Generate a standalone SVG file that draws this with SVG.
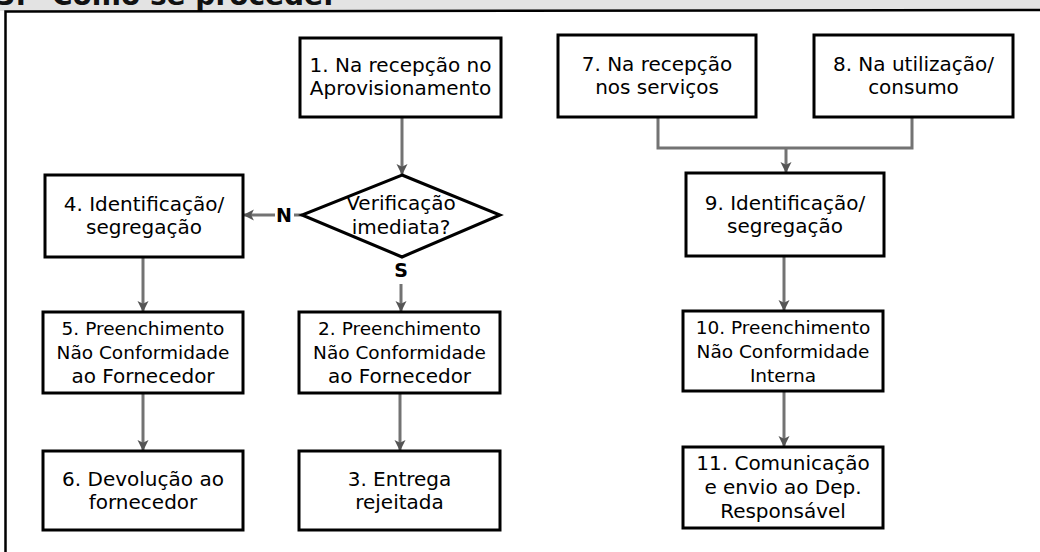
<svg xmlns="http://www.w3.org/2000/svg" width="1040" height="552" viewBox="0 0 1040 552">
<defs>
<marker id="arr" viewBox="0 0 10 10" refX="9" refY="5" markerUnits="userSpaceOnUse" markerWidth="11" markerHeight="15" orient="auto">
<path d="M0,0 L10,5 L0,10 L2.5,5 z" fill="#555"/>
</marker>
<style>
.box{fill:#fff;stroke:#000;stroke-width:3}
.t{font-family:"DejaVu Sans","Liberation Sans",sans-serif;font-size:20px;fill:#000;text-anchor:middle}
.n{font-size:18.5px}
.lbl{font-family:"DejaVu Sans","Liberation Sans",sans-serif;font-size:19px;font-weight:bold;fill:#000;text-anchor:middle}
.c{fill:none;stroke:#737373;stroke-width:3}
</style>
</defs>
<rect x="0" y="0" width="1040" height="552" fill="#fff"/>
<rect x="0" y="0" width="1040" height="11" fill="#e3e3e3"/>
<text x="-4" y="5" font-family="DejaVu Sans, sans-serif" font-size="28" font-weight="bold" fill="#111">3.<tspan x="52">Como se procede.</tspan></text>
<path d="M5.5,552 L5.5,11.5 L1040,10" fill="none" stroke="#000" stroke-width="2.5"/>

<g id="connectors">
<path class="c" d="M402,117 L402,174" marker-end="url(#arr)"/>
<path class="c" d="M302,215 L294,215"/>
<path class="c" d="M275,215 L244,215" marker-end="url(#arr)"/>
<path class="c" d="M401,284 L401,311" marker-end="url(#arr)"/>
<path class="c" d="M143,257 L143,311" marker-end="url(#arr)"/>
<path class="c" d="M143,393 L143,450" marker-end="url(#arr)"/>
<path class="c" d="M400,393 L400,450" marker-end="url(#arr)"/>
<path class="c" d="M658,117 V148 H912 V117"/>
<path class="c" d="M786,148 V172" marker-end="url(#arr)"/>
<path class="c" d="M784,256 V310" marker-end="url(#arr)"/>
<path class="c" d="M784,391 V446" marker-end="url(#arr)"/>
<text class="lbl" x="284" y="222">N</text>
<text class="lbl" x="401" y="277">S</text>
</g>

<g id="n1"><rect class="box" x="300" y="38" width="201" height="79"/>
<text class="t" x="400.5" y="72">1. Na recepção no</text><text class="t" x="400.5" y="95">Aprovisionamento</text></g>

<g id="d"><polygon points="402,175 500,215 402,257 302,215" fill="#fff" stroke="#000" stroke-width="3"/>
<text class="t" x="401" y="210">Verificação</text><text class="t" x="401" y="234">imediata?</text></g>

<g id="n4"><rect class="box" x="45" y="175" width="198" height="82"/>
<text class="t" x="144" y="211">4. Identificação/</text><text class="t" x="144" y="234">segregação</text></g>

<g id="n5"><rect class="box" x="43" y="312" width="200" height="81"/>
<text class="t n" x="143" y="335">5. Preenchimento</text><text class="t n" x="143" y="359">Não Conformidade</text><text class="t" x="143" y="383">ao Fornecedor</text></g>

<g id="n2"><rect class="box" x="299" y="312" width="201" height="81"/>
<text class="t n" x="399.5" y="335">2. Preenchimento</text><text class="t n" x="399.5" y="359">Não Conformidade</text><text class="t" x="399.5" y="383">ao Fornecedor</text></g>

<g id="n6"><rect class="box" x="43" y="451" width="200" height="79"/>
<text class="t" x="143" y="486">6. Devolução ao</text><text class="t" x="143" y="509">fornecedor</text></g>

<g id="n3"><rect class="box" x="299" y="451" width="201" height="79"/>
<text class="t" x="399.5" y="486">3. Entrega</text><text class="t" x="399.5" y="509">rejeitada</text></g>

<g id="n7"><rect class="box" x="558" y="35" width="198" height="82"/>
<text class="t" x="657" y="71">7. Na recepção</text><text class="t" x="657" y="94">nos serviços</text></g>

<g id="n8"><rect class="box" x="814" y="35" width="199" height="82"/>
<text class="t" x="913.5" y="71">8. Na utilização/</text><text class="t" x="913.5" y="94">consumo</text></g>

<g id="n9"><rect class="box" x="686" y="173" width="198" height="83"/>
<text class="t" x="785" y="210">9. Identificação/</text><text class="t" x="785" y="233">segregação</text></g>

<g id="n10"><rect class="box" x="683" y="311" width="200" height="80"/>
<text class="t n" x="783" y="334">10. Preenchimento</text><text class="t n" x="783" y="358">Não Conformidade</text><text class="t n" x="783" y="382">Interna</text></g>

<g id="n11"><rect class="box" x="683" y="447" width="200" height="81"/>
<text class="t" x="783" y="470">11. Comunicação</text><text class="t" x="783" y="494">e envio ao Dep.</text><text class="t" x="783" y="518">Responsável</text></g>
</svg>
